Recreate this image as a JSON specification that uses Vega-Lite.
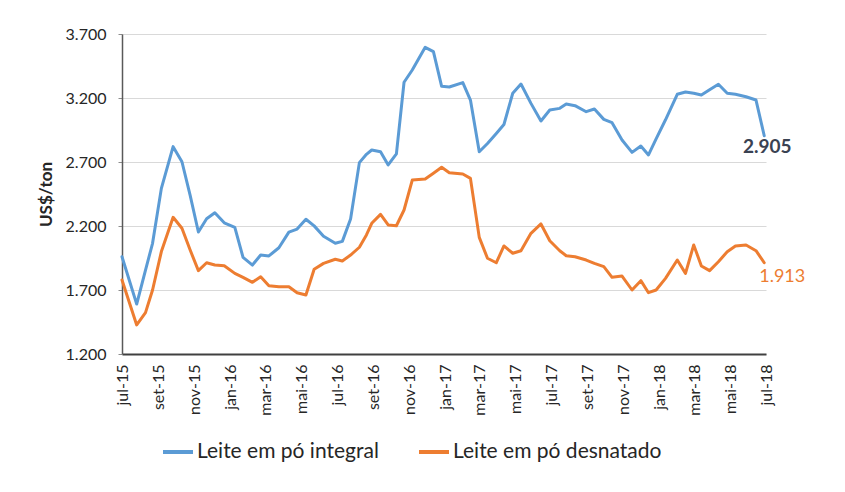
{
  "$schema": "https://vega.github.io/schema/vega-lite/v6.json",
  "width": 644,
  "height": 320,
  "autosize": {"type": "none"},
  "padding": {"left": 122, "top": 34, "right": 79, "bottom": 138},
  "background": "white",
  "config": {
    "locale": {"number": {"decimal": ",", "thousands": ".", "grouping": [3], "currency": ["R$", ""]}},
    "font": "Lato",
    "view": {"stroke": null}
  },
  "data": {
    "values": [
      {"data": "2015-07-01", "integral": 1960, "desnatado": 1778},
      {"data": "2015-07-26", "integral": 1590, "desnatado": 1427},
      {"data": "2015-08-10", "integral": 1855, "desnatado": 1523},
      {"data": "2015-08-22", "integral": 2065, "desnatado": 1700},
      {"data": "2015-09-06", "integral": 2494, "desnatado": 2000},
      {"data": "2015-09-26", "integral": 2820, "desnatado": 2268},
      {"data": "2015-10-11", "integral": 2702, "desnatado": 2182},
      {"data": "2015-10-25", "integral": 2440, "desnatado": 2012},
      {"data": "2015-11-08", "integral": 2153, "desnatado": 1851},
      {"data": "2015-11-22", "integral": 2257, "desnatado": 1913},
      {"data": "2015-12-06", "integral": 2304, "desnatado": 1895},
      {"data": "2015-12-22", "integral": 2225, "desnatado": 1890},
      {"data": "2016-01-09", "integral": 2190, "desnatado": 1830},
      {"data": "2016-01-23", "integral": 1955, "desnatado": 1799},
      {"data": "2016-02-08", "integral": 1895, "desnatado": 1760},
      {"data": "2016-02-22", "integral": 1973, "desnatado": 1804},
      {"data": "2016-03-07", "integral": 1966, "desnatado": 1734},
      {"data": "2016-03-24", "integral": 2030, "desnatado": 1726},
      {"data": "2016-04-10", "integral": 2152, "desnatado": 1726},
      {"data": "2016-04-24", "integral": 2176, "desnatado": 1679},
      {"data": "2016-05-09", "integral": 2253, "desnatado": 1661},
      {"data": "2016-05-23", "integral": 2201, "desnatado": 1862},
      {"data": "2016-06-08", "integral": 2120, "desnatado": 1908},
      {"data": "2016-06-28", "integral": 2065, "desnatado": 1940},
      {"data": "2016-07-10", "integral": 2080, "desnatado": 1927},
      {"data": "2016-07-24", "integral": 2255, "desnatado": 1973},
      {"data": "2016-08-08", "integral": 2695, "desnatado": 2034},
      {"data": "2016-08-20", "integral": 2760, "desnatado": 2130},
      {"data": "2016-08-29", "integral": 2794, "desnatado": 2221},
      {"data": "2016-09-13", "integral": 2780, "desnatado": 2291},
      {"data": "2016-09-26", "integral": 2677, "desnatado": 2208},
      {"data": "2016-10-10", "integral": 2763, "desnatado": 2202},
      {"data": "2016-10-23", "integral": 3323, "desnatado": 2325},
      {"data": "2016-11-06", "integral": 3419, "desnatado": 2559},
      {"data": "2016-11-28", "integral": 3596, "desnatado": 2567},
      {"data": "2016-12-12", "integral": 3562, "desnatado": 2612},
      {"data": "2016-12-26", "integral": 3291, "desnatado": 2659},
      {"data": "2017-01-08", "integral": 3286, "desnatado": 2616},
      {"data": "2017-01-31", "integral": 3320, "desnatado": 2606},
      {"data": "2017-02-13", "integral": 3184, "desnatado": 2572},
      {"data": "2017-02-28", "integral": 2780, "desnatado": 2111},
      {"data": "2017-03-14", "integral": 2845, "desnatado": 1948},
      {"data": "2017-03-29", "integral": 2923, "desnatado": 1913},
      {"data": "2017-04-11", "integral": 2993, "desnatado": 2044},
      {"data": "2017-04-26", "integral": 3237, "desnatado": 1987},
      {"data": "2017-05-10", "integral": 3309, "desnatado": 2007},
      {"data": "2017-05-27", "integral": 3158, "desnatado": 2143},
      {"data": "2017-06-13", "integral": 3020, "desnatado": 2216},
      {"data": "2017-06-28", "integral": 3106, "desnatado": 2085},
      {"data": "2017-07-15", "integral": 3119, "desnatado": 2007},
      {"data": "2017-07-26", "integral": 3153, "desnatado": 1968},
      {"data": "2017-08-10", "integral": 3140, "desnatado": 1960},
      {"data": "2017-08-29", "integral": 3093, "desnatado": 1934},
      {"data": "2017-09-12", "integral": 3114, "desnatado": 1908},
      {"data": "2017-09-28", "integral": 3033, "desnatado": 1882},
      {"data": "2017-10-12", "integral": 3007, "desnatado": 1799},
      {"data": "2017-10-29", "integral": 2872, "desnatado": 1809},
      {"data": "2017-11-15", "integral": 2775, "desnatado": 1700},
      {"data": "2017-11-30", "integral": 2825, "desnatado": 1773},
      {"data": "2017-12-13", "integral": 2755, "desnatado": 1679},
      {"data": "2017-12-26", "integral": 2880, "desnatado": 1700},
      {"data": "2018-01-11", "integral": 3030, "desnatado": 1791},
      {"data": "2018-01-31", "integral": 3229, "desnatado": 1934},
      {"data": "2018-02-14", "integral": 3247, "desnatado": 1830},
      {"data": "2018-02-28", "integral": 3237, "desnatado": 2052},
      {"data": "2018-03-13", "integral": 3224, "desnatado": 1888},
      {"data": "2018-03-27", "integral": 3265, "desnatado": 1851},
      {"data": "2018-04-11", "integral": 3307, "desnatado": 1921},
      {"data": "2018-04-26", "integral": 3237, "desnatado": 1999},
      {"data": "2018-05-10", "integral": 3229, "desnatado": 2044},
      {"data": "2018-05-28", "integral": 3210, "desnatado": 2052},
      {"data": "2018-06-14", "integral": 3184, "desnatado": 2007},
      {"data": "2018-06-28", "integral": 2905, "desnatado": 1913}
    ]
  },
  "transform": [{"fold": ["integral", "desnatado"], "as": ["produto", "valor"]}],
  "encoding": {
    "x": {
      "field": "data",
      "type": "temporal",
      "scale": {
        "type": "utc",
        "nice": false,
        "domain": [
          {"year": 2015, "month": 7, "date": 1, "utc": true},
          {"year": 2018, "month": 7, "date": 1, "utc": true}
        ]
      },
      "axis": {
        "title": null,
        "tickCount": {"interval": "month", "step": 2},
        "labelExpr": "['jan','fev','mar','abr','mai','jun','jul','ago','set','out','nov','dez'][utcmonth(datum.value)] + '-' + utcFormat(datum.value, '%y')",
        "labelAngle": 270,
        "labelFontSize": 16,
        "labelColor": "#262626",
        "labelPadding": 10,
        "labelOverlap": false,
        "labelFlush": false,
        "labelBound": false,
        "ticks": false,
        "grid": false,
        "domainColor": "#404040",
        "domainWidth": 2
      }
    },
    "y": {
      "field": "valor",
      "type": "quantitative",
      "scale": {"domain": [1200, 3700], "nice": false, "zero": false},
      "axis": {
        "title": "US$/ton",
        "titleFontSize": 17,
        "titleFontWeight": "bold",
        "titleColor": "#262626",
        "titlePadding": 10,
        "values": [1200, 1700, 2200, 2700, 3200, 3700],
        "format": ",.0f",
        "labelFontSize": 16,
        "labelColor": "#262626",
        "labelPadding": 12,
        "ticks": true,
        "tickSize": 4,
        "tickColor": "#8c8c8c",
        "gridColor": "#d9d9d9",
        "gridWidth": 1.2,
        "domainColor": "#595959",
        "domainWidth": 1.5
      }
    }
  },
  "layer": [
    {
      "mark": {"type": "line", "strokeWidth": 3, "strokeJoin": "round", "strokeCap": "round"},
      "encoding": {
        "color": {
          "field": "produto",
          "type": "nominal",
          "scale": {"domain": ["integral", "desnatado"], "range": ["#5b9bd5", "#ed7d31"]},
          "legend": {
            "title": null,
            "orient": "none",
            "legendX": 39,
            "legendY": 401,
            "direction": "horizontal",
            "symbolType": "stroke",
            "symbolSize": 900,
            "symbolStrokeWidth": 4,
            "labelFontSize": 21,
            "labelColor": "#262626",
            "labelOffset": 2,
            "labelLimit": 400,
            "columnPadding": 32,
            "labelExpr": "datum.value == 'integral' ? 'Leite em pó integral' : 'Leite em pó desnatado'"
          }
        }
      }
    },
    {
      "transform": [
        {"filter": "datum.produto == 'integral'"},
        {"aggregate": [{"op": "argmax", "field": "data", "as": "ult"}]}
      ],
      "mark": {"type": "text", "fontSize": 19, "fontWeight": "bold", "color": "#3a4252", "align": "center", "baseline": "middle", "dx": 3, "dy": 11},
      "encoding": {
        "x": {"field": "ult.data", "type": "temporal"},
        "y": {"field": "ult.valor", "type": "quantitative"},
        "text": {"field": "ult.valor", "type": "quantitative", "format": ",.0f"}
      }
    },
    {
      "transform": [
        {"filter": "datum.produto == 'desnatado'"},
        {"aggregate": [{"op": "argmax", "field": "data", "as": "ult"}]}
      ],
      "mark": {"type": "text", "fontSize": 18, "color": "#ed7d31", "align": "center", "baseline": "middle", "dx": 18, "dy": 14},
      "encoding": {
        "x": {"field": "ult.data", "type": "temporal"},
        "y": {"field": "ult.valor", "type": "quantitative"},
        "text": {"field": "ult.valor", "type": "quantitative", "format": ",.0f"}
      }
    }
  ]
}
